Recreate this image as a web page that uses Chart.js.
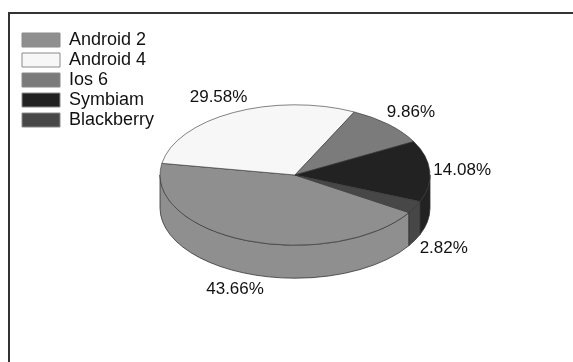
<!DOCTYPE html>
<html>
<head>
<meta charset="utf-8">
<script src="https://cdn.jsdelivr.net/npm/chart.js@4.4.1/dist/chart.umd.min.js"></script>
<style>
  html, body { margin: 0; padding: 0; background: #fff; }
  #wrap { position: relative; width: 573px; height: 362px; overflow: hidden; }
  #frame { position: absolute; left: 8px; top: 12px; width: 620px; height: 420px;
           border-top: 2px solid #333; border-left: 2px solid #333; }
  canvas { position: absolute; left: 0; top: 0; }
</style>
</head>
<body>
<div id="wrap">
  <div id="frame"></div>
  <canvas id="pieChart" width="573" height="362"></canvas>
</div>
<script>
const labels = ['Android 2', 'Android 4', 'Ios 6', 'Symbiam', 'Blackberry'];
const shares = [43.66, 29.58, 9.86, 14.08, 2.82];
const colors = ['#8f8f8f', '#f7f7f7', '#7b7b7b', '#222222', '#474747'];

const tilt = 0.52;      // vertical squash of the pie top
const depth = 33;       // thickness of the side wall
const labelReach = 1.24;
const fontFamily = '"Liberation Sans", Arial, sans-serif';

// draws the side wall under the slices, squashes the top, then writes the % labels
const pie3d = {
  id: 'pie3d',
  beforeDatasetsDraw(chart) {
    const ctx = chart.ctx;
    const arcs = chart.getDatasetMeta(0).data;
    const { x: cx, y: cy, outerRadius: r } = arcs[0];
    ctx.save();
    ctx.lineWidth = 0.8;
    ctx.strokeStyle = '#333';
    arcs.forEach((arc, i) => {
      for (let k = -1; k <= 2; k++) {
        const lo = Math.max(arc.startAngle, 2 * Math.PI * k);
        const hi = Math.min(arc.endAngle, 2 * Math.PI * k + Math.PI);
        if (hi <= lo) continue;
        ctx.beginPath();
        ctx.ellipse(cx, cy, r, r * tilt, 0, lo, hi);
        ctx.ellipse(cx, cy + depth, r, r * tilt, 0, hi, lo, true);
        ctx.closePath();
        ctx.fillStyle = colors[i];
        ctx.fill();
        ctx.stroke();
      }
    });
    ctx.restore();
    ctx.save();
    ctx.translate(cx, cy);
    ctx.scale(1, tilt);
    ctx.translate(-cx, -cy);
  },
  afterDatasetsDraw(chart) {
    const ctx = chart.ctx;
    ctx.restore();
    const arcs = chart.getDatasetMeta(0).data;
    const { x: cx, y: cy, outerRadius: r } = arcs[0];
    ctx.save();
    ctx.font = '17px ' + fontFamily;
    ctx.fillStyle = '#111';
    ctx.textAlign = 'center';
    ctx.textBaseline = 'middle';
    arcs.forEach((arc, i) => {
      const mid = (arc.startAngle + arc.endAngle) / 2;
      const c = Math.cos(mid);
      const s = Math.sin(mid);
      const x = cx + c * r * labelReach;
      const y = cy + s * r * tilt * labelReach + (s > 0 ? depth : 0);
      ctx.fillText(shares[i].toFixed(2) + '%', x, y);
    });
    ctx.restore();
  }
};

const ctx = document.getElementById('pieChart');
const pieChart = new Chart(ctx, {
  type: 'pie',
  data: {
    labels,
    datasets: [{
      data: shares,
      backgroundColor: colors,
      borderColor: '#333',
      borderWidth: 0.8,
      radius: 135,
      clip: false,
    }],
  },
  options: {
    responsive: false,
    animation: false,
    events: [],
    rotation: 122.4,
    layout: { padding: { left: 20, top: 29, right: 147, bottom: 41 } },
    plugins: {
      tooltip: { enabled: false },
      legend: {
        position: 'left',
        align: 'start',
        labels: {
          boxWidth: 38,
          boxHeight: 14,
          padding: 2,
          color: '#111',
          font: { family: fontFamily, size: 18 },
          generateLabels(chart) {
            const items = Chart.overrides.doughnut.plugins.legend.labels.generateLabels(chart);
            return items.map((item) => Object.assign(item, { strokeStyle: '#8a8a8a', lineWidth: 1 }));
          },
        },
      },
    },
  },
  plugins: [pie3d],
});
</script>
</body>
</html>
